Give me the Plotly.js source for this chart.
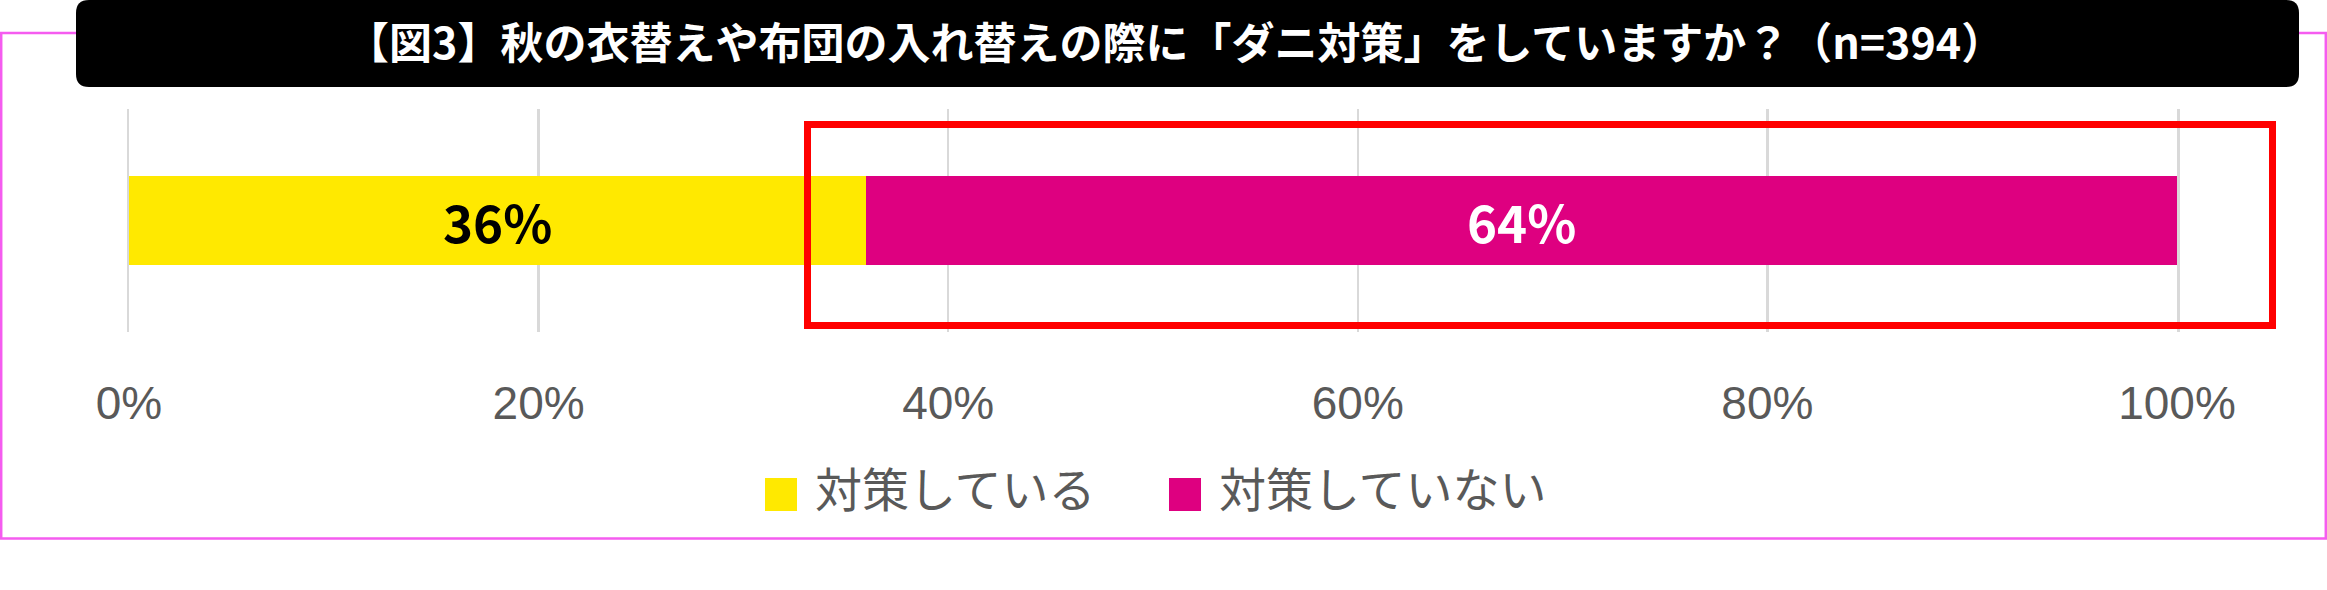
<!DOCTYPE html>
<html>
<head>
<meta charset="utf-8">
<script src="https://cdn.plot.ly/plotly-3.0.1.min.js"></script>
<style>
  html, body { margin: 0; padding: 0; background: #ffffff; }
  #chart { width: 2327px; height: 590px; }
</style>
</head>
<body>
<div id="chart"></div>
<script>
// ---- data ----
const titleText = '【図3】秋の衣替えや布団の入れ替えの際に「ダニ対策」をしていますか？（n=394）';
const categories = ['ダニ対策'];
const seriesNames = ['対策している', '対策していない'];
const doingValues = [36];
const notDoingValues = [64];
const tickValues = [0, 20, 40, 60, 80, 100];
const tickLabels = ['0%', '20%', '40%', '60%', '80%', '100%'];

// ---- styling ----
const W = 2327, H = 590;
const M = { l: 129, r: 150, t: 109, b: 258 };
const PW = W - M.l - M.r, PH = H - M.t - M.b;
const px = x => (x - M.l) / PW;           // pixel -> paper x
const py = y => (H - M.b - y) / PH;       // pixel -> paper y
const YELLOW = '#FFE900', MAGENTA = '#DE0080', GREY = '#595959', GRID = '#D9D9D9';
const JP = '"Noto Sans CJK JP", "Noto Sans", sans-serif';

function roundRectPath(x0, y0, x1, y1, r) {
  const X0 = px(x0), X1 = px(x1), Y0 = py(y0), Y1 = py(y1);
  const rx = r / PW, ry = r / PH;
  return `M${X0 + rx},${Y0} L${X1 - rx},${Y0} Q${X1},${Y0} ${X1},${Y0 - ry} ` +
         `L${X1},${Y1 + ry} Q${X1},${Y1} ${X1 - rx},${Y1} L${X0 + rx},${Y1} ` +
         `Q${X0},${Y1} ${X0},${Y1 + ry} L${X0},${Y0 - ry} Q${X0},${Y0} ${X0 + rx},${Y0} Z`;
}

const traces = [
  {
    type: 'bar', orientation: 'h', name: seriesNames[0],
    y: categories, x: doingValues, width: 0.4,
    marker: { color: YELLOW },
    texttemplate: '%{x}%', textposition: 'inside', insidetextanchor: 'middle',
    constraintext: 'none',
    insidetextfont: { family: JP, size: 51, color: '#000000', weight: 'bold' },
    hoverinfo: 'skip'
  },
  {
    type: 'bar', orientation: 'h', name: seriesNames[1],
    y: categories, x: notDoingValues, width: 0.4,
    marker: { color: MAGENTA },
    texttemplate: '%{x}%', textposition: 'inside', insidetextanchor: 'middle',
    constraintext: 'none',
    insidetextfont: { family: JP, size: 51, color: '#ffffff', weight: 'bold' },
    hoverinfo: 'skip'
  }
];

const legendColors = [YELLOW, MAGENTA];
const legendSquareX = [765, 1169];
const legendTextX = [813, 1217];

const shapes = [
  // outer pink frame
  { type: 'rect', xref: 'paper', yref: 'paper', layer: 'above',
    x0: px(1.2), x1: px(2325.8), y0: py(538.5), y1: py(33),
    line: { color: '#F55CF0', width: 2.5 }, fillcolor: 'rgba(0,0,0,0)' },
  // black title box
  { type: 'path', xref: 'paper', yref: 'paper', layer: 'above',
    path: roundRectPath(76, 0, 2299, 87, 13),
    fillcolor: '#000000', line: { width: 0 } },
  // red highlight box
  { type: 'rect', xref: 'paper', yref: 'paper', layer: 'above',
    x0: px(807.5), x1: px(2272.5), y0: py(325.5), y1: py(124.5),
    line: { color: '#FF0000', width: 7 }, fillcolor: 'rgba(0,0,0,0)' }
];
const annotations = [];
seriesNames.forEach((name, i) => {
  shapes.push({ type: 'rect', xref: 'paper', yref: 'paper', layer: 'above',
    x0: px(legendSquareX[i]), x1: px(legendSquareX[i] + 32),
    y0: py(511), y1: py(478),
    fillcolor: legendColors[i], line: { width: 0 } });
  annotations.push({ xref: 'paper', yref: 'paper', x: px(legendTextX[i]), y: py(486),
    xanchor: 'left', yanchor: 'middle', showarrow: false, text: name,
    font: { family: JP, size: 47, color: GREY } });
});

const layout = {
  width: W, height: H,
  margin: M,
  paper_bgcolor: '#ffffff', plot_bgcolor: '#ffffff',
  barmode: 'stack', showlegend: false,
  title: {
    text: titleText, xref: 'container', yref: 'container',
    x: 0.505, xanchor: 'center', y: 1 - 44 / H, yanchor: 'middle',
    font: { family: JP, size: 43, color: '#ffffff', weight: 'bold' }
  },
  xaxis: {
    range: [0, 100], tickvals: tickValues, ticktext: tickLabels,
    showgrid: true, gridcolor: GRID, gridwidth: 2.5,
    zeroline: false, showline: false, ticks: '',
    ticklabelstandoff: 40,
    tickfont: { family: '"Liberation Sans", Arial, sans-serif', size: 46, color: GREY },
    fixedrange: true
  },
  yaxis: {
    range: [-0.5, 0.5], showticklabels: false, showgrid: false,
    zeroline: false, showline: true, mirror: true,
    linecolor: GRID, linewidth: 2.5, fixedrange: true
  },
  shapes: shapes,
  annotations: annotations
};

Plotly.newPlot('chart', traces, layout, { displayModeBar: false, staticPlot: true });
</script>
</body>
</html>
